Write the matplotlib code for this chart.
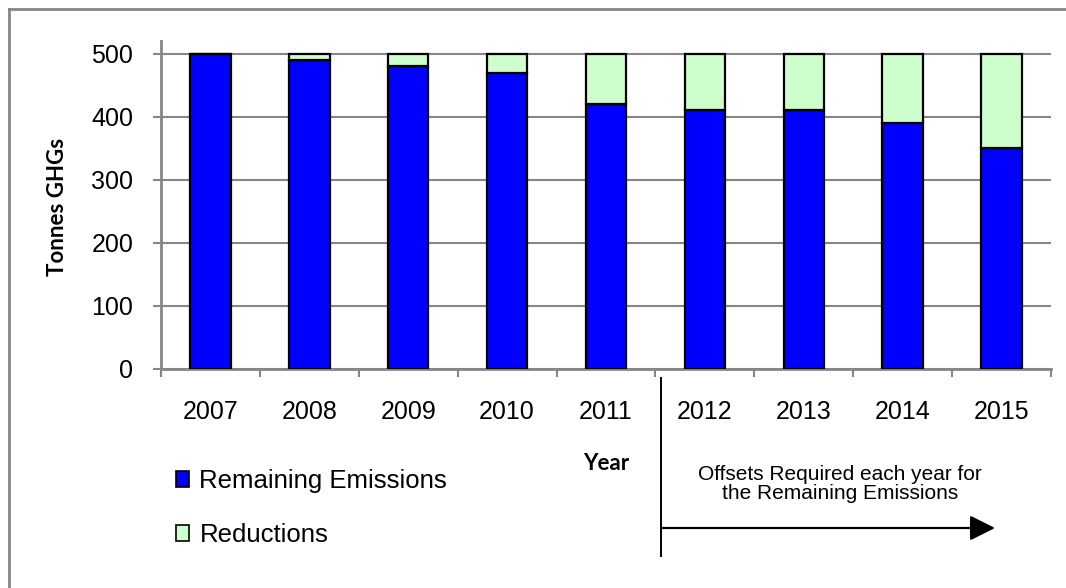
import matplotlib
matplotlib.use("Agg")
import matplotlib.pyplot as plt
from matplotlib.lines import Line2D
from matplotlib.patches import Patch, FancyArrowPatch
import numpy as np

years = ["2007", "2008", "2009", "2010", "2011", "2012", "2013", "2014", "2015"]
remaining = [500, 490, 480, 470, 420, 410, 410, 390, 350]
reductions = [0, 10, 20, 30, 80, 90, 90, 110, 150]
yticks = [0, 100, 200, 300, 400, 500]

W, H = 1066, 588
plt.rcParams["font.family"] = ["Liberation Sans", "DejaVu Sans"]
fig = plt.figure(figsize=(W / 100, H / 100), dpi=100)


def fx(px):
    return px / W


def fy(py):
    return 1 - py / H


grid_gray = "#868686"
blue = "#0000FF"
green = "#CCFFCC"

ax = fig.add_axes([fx(161), fy(369), fx(1051) - fx(161), fy(41) - fy(369)])
x = np.arange(len(years))
ax.bar(x, remaining, width=0.41, color=blue, edgecolor="black", linewidth=1.6, zorder=3)
ax.bar(x, reductions, bottom=remaining, width=0.41, color=green, edgecolor="black",
       linewidth=1.6, zorder=3)

ax.set_xlim(-0.5, len(years) - 0.5)
ax.set_ylim(0, 520)
ax.set_yticks(yticks)
ax.set_yticklabels([str(v) for v in yticks], fontsize=18)
ax.yaxis.grid(True, color=grid_gray, linewidth=1.5, zorder=0)
ax.set_axisbelow(True)

# category labels centred, tick marks on category boundaries
ax.set_xticks(x)
ax.set_xticklabels(years, fontsize=18)
ax.set_xticks(np.arange(len(years) + 1) - 0.5, minor=True)
ax.tick_params(axis="x", which="major", length=0, pad=22)
ax.tick_params(axis="x", which="minor", length=6, width=1.5, color=grid_gray, direction="out")
ax.tick_params(axis="y", length=6, width=1.5, color=grid_gray, direction="out", pad=14)

for side in ("top", "right"):
    ax.spines[side].set_visible(False)
for side in ("left", "bottom"):
    ax.spines[side].set_color(grid_gray)
    ax.spines[side].set_linewidth(2)
    ax.spines[side].set_zorder(2)

fig.text(fx(58), fy(207), "Tonnes GHGs", rotation=90, ha="center", va="center",
         fontsize=16, fontweight="bold", family=["Lato", "DejaVu Sans"])
fig.text(fx(606), fy(463), "Year", ha="center", va="center",
         fontsize=16, fontweight="bold", family=["Lato", "DejaVu Sans"])

# legend
handles = [Patch(facecolor=blue, edgecolor="black", linewidth=1.2),
           Patch(facecolor=green, edgecolor="black", linewidth=1.2)]
fig.legend(handles, ["Remaining Emissions", "Reductions"], loc="upper left",
           bbox_to_anchor=(fx(166), fy(459)), frameon=False, fontsize=18.5,
           handlelength=0.5, handleheight=0.6, handletextpad=0.4,
           labelspacing=1.15, borderaxespad=0)

# offsets annotation
fig.add_artist(Line2D([fx(661), fx(661)], [fy(378), fy(556)], color="black", linewidth=1.4))
fig.text(fx(840), fy(484), "Offsets Required each year for\nthe Remaining Emissions",
         ha="center", va="center", fontsize=15, linespacing=1.0)
fig.patches.append(FancyArrowPatch(
    (fx(661), fy(528)), (fx(995), fy(528)), transform=fig.transFigure,
    arrowstyle="-|>,head_length=1.1,head_width=0.55", mutation_scale=14,
    color="black", linewidth=1.6, shrinkA=0, shrinkB=0))

# outer frame
fig.add_artist(Line2D([fx(9), fx(9)], [fy(9), 0], color=grid_gray, linewidth=2))
fig.add_artist(Line2D([fx(9), 1], [fy(9), fy(9)], color=grid_gray, linewidth=2))

fig.savefig("out.png", dpi=100)
